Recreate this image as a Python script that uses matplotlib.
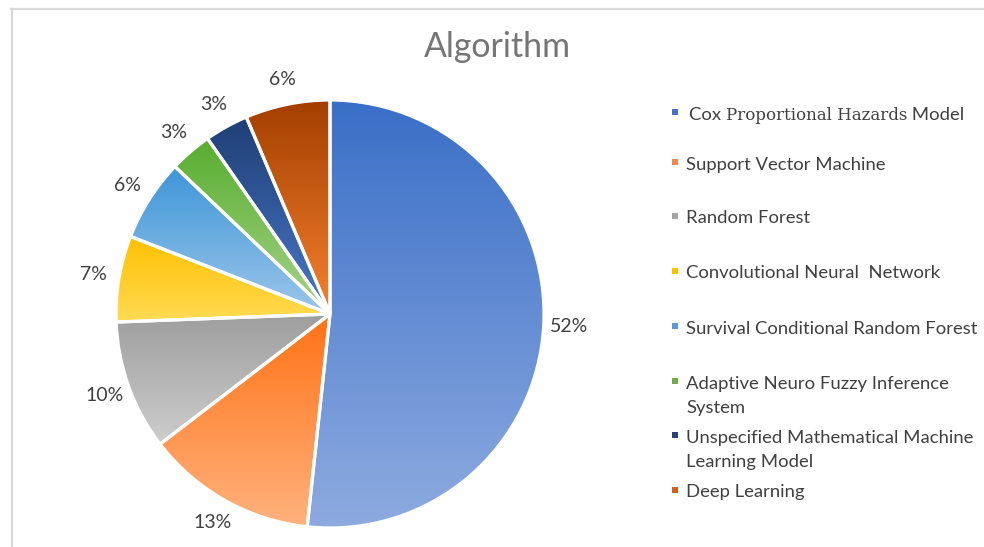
import numpy as np
import matplotlib
matplotlib.use("Agg")
import matplotlib.pyplot as plt
from matplotlib.colors import to_rgb
from matplotlib.lines import Line2D

# ---------------- data ----------------
title = "Algorithm"
categories = [
    "Cox Proportional Hazards Model",
    "Support Vector Machine",
    "Random Forest",
    "Convolutional Neural  Network",
    "Survival Conditional Random Forest",
    "Adaptive Neuro Fuzzy Inference\nSystem",
    "Unspecified Mathematical Machine\nLearning Model",
    "Deep Learning",
]
# slice shares
values = [51.7, 12.9, 9.8, 6.5, 6.2, 3.2, 3.3, 6.4]
pct_labels = ["52%", "13%", "10%", "7%", "6%", "3%", "3%", "6%"]
top_colors = ["#3A6FC7", "#FF7215", "#9E9E9E", "#FFC000", "#3E96D8", "#57AD2F", "#1F3E74", "#A33E00"]
bottom_colors = ["#8EABE0", "#FFB27F", "#CDCDCD", "#FFDB55", "#9CC6EA", "#A7D48A", "#4A79CA", "#F6822F"]
legend_colors = ["#4472C4", "#F4874B", "#A5A5A5", "#FFC000", "#5B9BD5", "#70AD47", "#264478", "#D0601A"]

# ---------------- layout ----------------
W, H = 984, 547
fig = plt.figure(figsize=(W / 100, H / 100), dpi=100)
fig.patch.set_facecolor("white")

SANS = ["Lato", "DejaVu Sans"]
SERIF = ["DejaVu Serif"]
TXT = "#404040"

cx, cy, R = 330, 314, 214
ax = fig.add_axes([(cx - R) / W, 1 - (cy + R) / H, 2 * R / W, 2 * R / H])

wedges, texts = ax.pie(
    values, startangle=90, counterclock=False, radius=1,
    labels=pct_labels, labeldistance=1.12,
    wedgeprops=dict(facecolor="none", edgecolor="white", linewidth=2.3),
    textprops=dict(fontsize=14, color=TXT, family=SANS),
)
for t in texts:
    t.set_ha("center")
    t.set_va("center")

def grad(c1, c2, n=256):
    a = np.array(to_rgb(c1)); b = np.array(to_rgb(c2))
    s = np.linspace(0, 1, n)[:, None]
    return (a * (1 - s) + b * s)[:, None, :]

for w, c1, c2 in zip(wedges, top_colors, bottom_colors):
    v = w.get_path().vertices
    x0, x1 = v[:, 0].min(), v[:, 0].max()
    y0, y1 = v[:, 1].min(), v[:, 1].max()
    im = ax.imshow(grad(c1, c2), extent=(x0, x1, y0, y1), origin="upper",
                   aspect="auto", interpolation="bilinear", zorder=1)
    im.set_clip_path(w)
    w.set_zorder(2)

ax.set_aspect("equal")
ax.set_xlim(-1, 1)
ax.set_ylim(-1, 1)
ax.axis("off")

# title
fig.text(497 / W, 1 - 47 / H, title, ha="center", va="center",
         fontsize=24.4, color="#757575", family=SANS)

# legend (manual)
leg_y = [113, 163, 217, 272, 327, 382, 436, 491]
line_gap = 24
mx, tx = 675, 686
LFS = 13.3
r = fig.canvas.get_renderer()
for i, (lab, col, y) in enumerate(zip(categories, legend_colors, leg_y)):
    fig.patches.append(plt.Rectangle(((mx - 3) / W, 1 - (y + 2) / H), 6 / W, 6 / H,
                                     transform=fig.transFigure, facecolor=col,
                                     edgecolor="none", figure=fig))
    base = 1 - (y + 6.5) / H
    if i == 0:
        words = lab.split(" ")
        t1 = fig.text((tx + 3) / W, base, words[0] + " ", ha="left", va="baseline",
                      fontsize=LFS, color=TXT, family=SANS)
        bb = t1.get_window_extent(r)
        t2 = fig.text(bb.x1 / W, base, " ".join(words[1:-1]), ha="left", va="baseline",
                      fontsize=12, color=TXT, family=SERIF)
        bb2 = t2.get_window_extent(r)
        fig.text(bb2.x1 / W, base, " " + words[-1], ha="left", va="baseline",
                 fontsize=LFS, color=TXT, family=SANS)
    else:
        for k, line in enumerate(lab.split("\n")):
            fig.text(tx / W, base - k * line_gap / H, line, ha="left",
                     va="baseline", fontsize=LFS, color=TXT, family=SANS)

# border lines (top & left)
fig.add_artist(Line2D([11 / W, 1], [1 - 9 / H, 1 - 9 / H], transform=fig.transFigure,
                      color="#d9d9d9", linewidth=1.6))
fig.add_artist(Line2D([12 / W, 12 / W], [0, 1 - 9 / H], transform=fig.transFigure,
                      color="#d9d9d9", linewidth=1.6))

fig.savefig("out.png", dpi=100, facecolor="white")
